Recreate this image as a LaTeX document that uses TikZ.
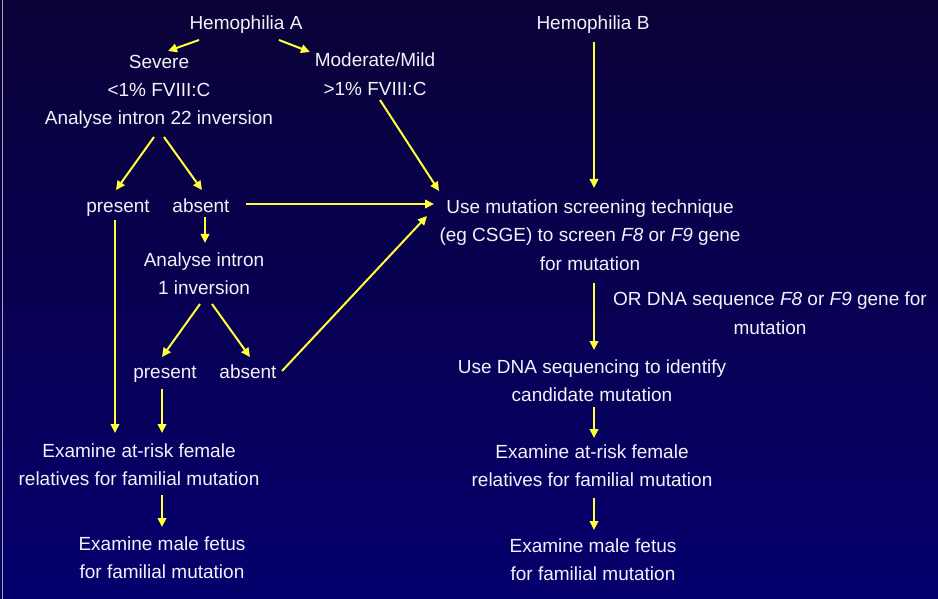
\documentclass[tikz,border=0pt]{standalone}
\usepackage{fontspec}
\setmainfont{Liberation Sans}
\usetikzlibrary{arrows.meta}
\definecolor{bgtop}{RGB}{10,2,55}
\definecolor{bgbot}{RGB}{6,0,110}
\definecolor{arrowyellow}{RGB}{255,255,60}
\definecolor{txtwhite}{RGB}{242,242,250}
\newcommand{\tstrut}{\rule{0pt}{20pt}}
\tikzset{
  lbl/.style={anchor=north, align=center, inner sep=0pt, text=txtwhite,
    font=\fontsize{19}{28.3}\selectfont},
  arr/.style={draw=arrowyellow, line width=2pt,
    -{Triangle[length=9pt,width=8.5pt]}, fill=arrowyellow}
}
\begin{document}
\begin{tikzpicture}[x=1pt,y=-1pt]
\shade[top color=bgtop, bottom color=bgbot] (0,0) rectangle (938,599);
\useasboundingbox (0,0) rectangle (938,599);
\draw[gray!70, line width=1.5pt] (2.5,0) -- (2.5,599);

% text nodes
\node[lbl] (hemA) at (246,9) {\tstrut Hemophilia A};
\node[lbl] (sev) at (159,48) {\tstrut Severe\\<1\% FVIII:C\\Analyse intron 22 inversion};
\node[lbl] (mod) at (375,46.7) {\tstrut Moderate/Mild\\>1\% FVIII:C};
\node[lbl] (hemB) at (593,9) {\tstrut Hemophilia B};
\node[lbl] (pres1) at (118,192) {\tstrut present};
\node[lbl] (abs1) at (201,192) {\tstrut absent};
\node[lbl] (screen) at (590,193.3) {\tstrut Use mutation screening technique\\(eg CSGE) to screen \textit{F8} or \textit{F9} gene\\for mutation};
\node[lbl] (intr1) at (204,246) {\tstrut Analyse intron\\1 inversion};
\node[lbl] (ordna) at (770,285.7) {\tstrut OR DNA sequence \textit{F8} or \textit{F9} gene for\\mutation};
\node[lbl] (pres2) at (165,358.3) {\tstrut present};
\node[lbl] (abs2) at (248,358.3) {\tstrut absent};
\node[lbl] (seq) at (592,353.3) {\tstrut Use DNA sequencing to identify\\candidate mutation};
\node[lbl] (femL) at (139,437.3) {\tstrut Examine at-risk female\\relatives for familial mutation};
\node[lbl] (fetL) at (162,530) {\tstrut Examine male fetus\\for familial mutation};
\node[lbl] (femR) at (592,438.3) {\tstrut Examine at-risk female\\relatives for familial mutation};
\node[lbl] (fetR) at (593,532.3) {\tstrut Examine male fetus\\for familial mutation};

% connector end points
\coordinate (hemA-l) at (199,40);   \coordinate (sev-t) at (168,51);
\coordinate (hemA-r) at (279,40);   \coordinate (mod-t) at (310,52);
\coordinate (mod-b) at (380,100);   \coordinate (screen-tl) at (439,191);
\coordinate (sev-bl) at (154,137);  \coordinate (pres1-t) at (116,190);
\coordinate (sev-br) at (164,137);  \coordinate (abs1-t) at (202,190);
\coordinate (hemB-b) at (594,42);   \coordinate (screen-t) at (594,188);
\coordinate (abs1-r) at (246,204);  \coordinate (screen-l) at (434,204);
\coordinate (abs1-b) at (205,217);  \coordinate (intr1-t) at (205,243);
\coordinate (pres1-b) at (115,220); \coordinate (femL-tl) at (115,433);
\coordinate (intr1-bl) at (200,304); \coordinate (pres2-t) at (162,357);
\coordinate (intr1-br) at (212,304); \coordinate (abs2-t) at (250,357);
\coordinate (abs2-r) at (282,371);  \coordinate (screen-bl) at (427,216);
\coordinate (pres2-b) at (162,389); \coordinate (femL-t) at (162,433);
\coordinate (femL-b) at (162,495);  \coordinate (fetL-t) at (162,527);
\coordinate (screen-b) at (594,283); \coordinate (seq-t) at (594,350);
\coordinate (seq-b) at (594,407);   \coordinate (femR-t) at (594,438);
\coordinate (femR-b) at (594,498);  \coordinate (fetR-t) at (594,530);

% connectors
\draw[arr] (hemA-l) -- (sev-t);
\draw[arr] (hemA-r) -- (mod-t);
\draw[arr] (mod-b) -- (screen-tl);
\draw[arr] (sev-bl) -- (pres1-t);
\draw[arr] (sev-br) -- (abs1-t);
\draw[arr] (hemB-b) -- (screen-t);
\draw[arr] (abs1-r) -- (screen-l);
\draw[arr] (abs1-b) -- (intr1-t);
\draw[arr] (pres1-b) -- (femL-tl);
\draw[arr] (intr1-bl) -- (pres2-t);
\draw[arr] (intr1-br) -- (abs2-t);
\draw[arr] (abs2-r) -- (screen-bl);
\draw[arr] (pres2-b) -- (femL-t);
\draw[arr] (femL-b) -- (fetL-t);
\draw[arr] (screen-b) -- (seq-t);
\draw[arr] (seq-b) -- (femR-t);
\draw[arr] (femR-b) -- (fetR-t);
\end{tikzpicture}
\end{document}
